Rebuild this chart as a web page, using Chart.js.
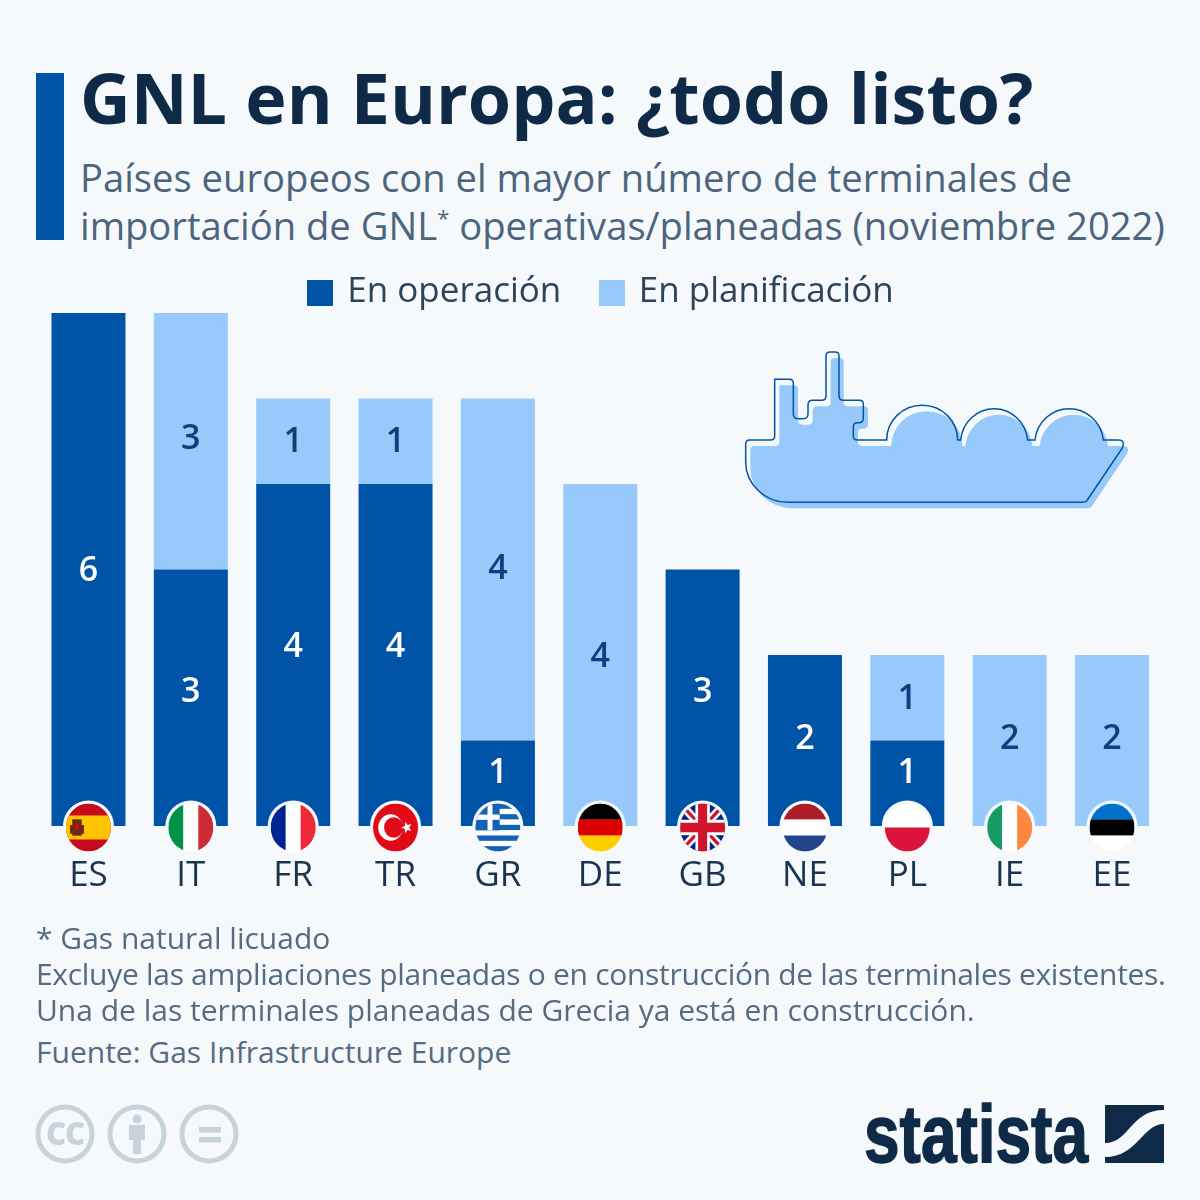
<!DOCTYPE html>
<html lang="es">
<head>
<meta charset="utf-8">
<title>GNL en Europa</title>
<script src="https://cdn.jsdelivr.net/npm/chart.js@4"></script>
<style>
  html, body { margin: 0; padding: 0; background: #f5f9fc; }
  body { position: relative; width: 1200px; height: 1200px; overflow: hidden; font-family: "Open Sans", sans-serif; }
  .txt { position: absolute; white-space: nowrap; }
  #bar { position: absolute; left: 36px; top: 73px; width: 28px; height: 167px; background: #0054a8; }
  #title { left: 80px; top: 49px; font-size: 70px; line-height: 96px; font-weight: 700; color: #0f2a47; }
  .sub { left: 80px; font-size: 38.2px; line-height: 48px; color: #4d657c; }
  .sub sup { font-size: 22px; line-height: 0; vertical-align: 14px; }
  .foot { left: 36px; font-size: 30px; line-height: 36px; color: #566b80; }
  canvas { position: absolute; left: 0; top: 227px; }
  svg { position: absolute; overflow: visible; }
</style>
</head>
<body>
<div id="bar"></div>
<div class="txt" id="title">GNL en Europa: ¿todo listo?</div>
<div class="txt sub" style="top:153px">Países europeos con el mayor número de terminales de</div>
<div class="txt sub" style="top:201px">importación de GNL<sup>*</sup> operativas/planeadas (noviembre 2022)</div>
<canvas id="myChart" width="1200" height="695"></canvas>
<div class="txt foot" style="top:920px">* Gas natural licuado</div>
<div class="txt foot" style="top:956px;letter-spacing:-0.3px">Excluye las ampliaciones planeadas o en construcción de las terminales existentes.</div>
<div class="txt foot" style="top:992px">Una de las terminales planeadas de Grecia ya está en construcción.</div>
<div class="txt foot" style="top:1034px">Fuente: Gas Infrastructure Europe</div>

<!-- ship -->
<svg style="left:730px;top:340px" width="410" height="180" viewBox="0 0 1230 540">
  <defs>
    <path id="hull" d="M47 312 Q47 300 59 300 H122 Q134 300 134 288 V118 H178 Q190 118 190 130 V222 Q190 236 204 236 H220 Q234 236 234 222 V195 Q234 181 248 181 H275 Q288 181 288 168 V48 Q288 36 300 36 H315 Q327 36 327 48 V168 Q327 181 340 181 H388 Q400 181 400 193 V235 Q400 248 388 248 H382 Q370 248 370 260 V288 Q370 300 382 300 H470 A106 104 0 0 1 683 300 H692 A101 104 0 0 1 893 300 H915 A103 104 0 0 1 1120 300 H1165 Q1186 300 1178 322 L1072 480 Q1068 487 1058 487 H175 A128 122 0 0 1 47 365 Z"/>
  </defs>
  <use href="#hull" x="14" y="18" fill="#97c9fb"/>
  <use href="#hull" fill="none" stroke="#0054a8" stroke-width="4.5"/>
</svg>

<!-- licence icons -->
<svg style="left:0;top:0" width="300" height="1200" viewBox="0 0 300 1200">
  <g fill="none" stroke="#c6d3db" stroke-width="5">
    <circle cx="65" cy="1134" r="27"/>
    <circle cx="137" cy="1134" r="27"/>
    <circle cx="209" cy="1134" r="27"/>
  </g>
  <text x="65" y="1145" text-anchor="middle" font-family="Open Sans" font-weight="800" font-size="31" fill="#c6d3db" letter-spacing="-1">CC</text>
  <g fill="#c6d3db">
    <circle cx="137" cy="1119" r="4.5"/>
    <path d="M129 1125 H145 V1140 H141 V1154 H133 V1140 H129 Z"/>
    <rect x="199" y="1127" width="22" height="5.5"/>
    <rect x="199" y="1137" width="22" height="5.5"/>
  </g>
</svg>

<!-- logo -->
<svg style="left:0;top:0" width="1200" height="1200" viewBox="0 0 1200 1200">
  <text x="864" y="1162" font-family="Liberation Sans Narrow, Liberation Sans" font-weight="700" font-size="81" fill="#0f2a47" stroke="#0f2a47" stroke-width="1.5" textLength="224" lengthAdjust="spacingAndGlyphs">statista</text>
  <rect x="1105" y="1105" width="59" height="58" rx="1" fill="#0f2a47"/>
  <path d="M1105 1143 C1130 1143 1130 1110 1164 1110 V1124 C1142 1124 1138 1157 1105 1157 Z" fill="#f5f9fc"/>
</svg>

<script>
const categories = ['ES', 'IT', 'FR', 'TR', 'GR', 'DE', 'GB', 'NE', 'PL', 'IE', 'EE'];
const operating = [6, 3, 4, 4, 1, 0, 3, 2, 1, 0, 0];
const planned = [0, 3, 1, 1, 4, 4, 0, 0, 1, 2, 2];

const darkBlue = '#0054a8';
const lightBlue = '#97c9fb';
// labels do not sit quite in the middle of the segments, the flags push them up
const operatingNudge = [2, -5, -8, -8, -10, 0, -5, -1, -10, 0, 0];
const plannedNudge = [0, -2, 1, 1, 0, 2, 0, 0, 2, -1, -1];

// square legend marker, chart.js leaves too wide a gap with a plain box
function legendBox (color) {
  const c = document.createElement('canvas');
  c.width = 26;
  c.height = 26;
  const g = c.getContext('2d');
  g.fillStyle = color;
  g.fillRect(0, 0, 26, 26);
  return c;
}
const legendBoxes = [legendBox(darkBlue), legendBox(lightBlue)];

function stripes (ctx, dir, colors) {
  const n = colors.length;
  colors.forEach((c, i) => {
    ctx.fillStyle = c;
    if (dir === 'h') ctx.fillRect(-1, -1 + i * 2 / n, 2, 2 / n + 0.01);
    else ctx.fillRect(-1 + i * 2 / n, -1, 2 / n + 0.01, 2);
  });
}

function star (ctx, x, y, r) {
  ctx.beginPath();
  for (let i = 0; i < 10; i++) {
    const a = -Math.PI / 2 + i * Math.PI / 5 - 0.3;
    const rr = i % 2 ? r * 0.42 : r;
    ctx.lineTo(x + rr * Math.cos(a), y + rr * Math.sin(a));
  }
  ctx.closePath();
  ctx.fill();
}

function bandLine (ctx, x1, y1, x2, y2, w, color) {
  ctx.strokeStyle = color;
  ctx.lineWidth = w;
  ctx.beginPath();
  ctx.moveTo(x1, y1);
  ctx.lineTo(x2, y2);
  ctx.stroke();
}

const flags = {
  ES (ctx) {
    ctx.fillStyle = '#c60b1e';
    ctx.fillRect(-1, -1, 2, 2);
    ctx.fillStyle = '#ffc400';
    ctx.fillRect(-1, -0.5, 2, 1);
    ctx.fillStyle = '#6d2a12';
    ctx.fillRect(-0.72, -0.34, 0.42, 0.68);
    ctx.fillRect(-0.82, -0.1, 0.62, 0.36);
    ctx.fillStyle = '#c60b1e';
    ctx.fillRect(-0.6, -0.14, 0.18, 0.22);
  },
  IT (ctx) { stripes(ctx, 'v', ['#009246', '#ffffff', '#ce2b37']); },
  FR (ctx) { stripes(ctx, 'v', ['#002395', '#ffffff', '#ed2939']); },
  TR (ctx) {
    ctx.fillStyle = '#e30a17';
    ctx.fillRect(-1, -1, 2, 2);
    ctx.fillStyle = '#ffffff';
    ctx.beginPath();
    ctx.arc(-0.22, 0, 0.55, 0, Math.PI * 2);
    ctx.fill();
    ctx.fillStyle = '#e30a17';
    ctx.beginPath();
    ctx.arc(-0.08, 0, 0.43, 0, Math.PI * 2);
    ctx.fill();
    ctx.fillStyle = '#ffffff';
    star(ctx, 0.5, 0, 0.25);
  },
  GR (ctx) {
    const cols = [];
    for (let i = 0; i < 9; i++) cols.push(i % 2 ? '#ffffff' : '#1263b4');
    stripes(ctx, 'h', cols);
    ctx.fillStyle = '#1263b4';
    ctx.fillRect(-1, -1, 1.08, 1.12);
    ctx.fillStyle = '#ffffff';
    ctx.fillRect(-0.46, -1, 0.22, 1.12);
    ctx.fillRect(-1, -0.54, 1.08, 0.22);
  },
  DE (ctx) { stripes(ctx, 'h', ['#000000', '#dd0000', '#ffce00']); },
  GB (ctx) {
    ctx.fillStyle = '#00247d';
    ctx.fillRect(-1, -1, 2, 2);
    bandLine(ctx, -1, -1, 1, 1, 0.36, '#ffffff');
    bandLine(ctx, -1, 1, 1, -1, 0.36, '#ffffff');
    bandLine(ctx, -1, -1, 1, 1, 0.14, '#cf142b');
    bandLine(ctx, -1, 1, 1, -1, 0.14, '#cf142b');
    ctx.fillStyle = '#ffffff';
    ctx.fillRect(-1, -0.32, 2, 0.64);
    ctx.fillRect(-0.32, -1, 0.64, 2);
    ctx.fillStyle = '#cf142b';
    ctx.fillRect(-1, -0.2, 2, 0.4);
    ctx.fillRect(-0.2, -1, 0.4, 2);
  },
  NE (ctx) { stripes(ctx, 'h', ['#ae1c28', '#ffffff', '#21468b']); },
  PL (ctx) { stripes(ctx, 'h', ['#ffffff', '#dc143c']); },
  IE (ctx) { stripes(ctx, 'v', ['#169b62', '#ffffff', '#ff883e']); },
  EE (ctx) { stripes(ctx, 'h', ['#0072ce', '#000000', '#ffffff']); }
};

const flagPlugin = {
  id: 'flagPlugin',
  afterDraw (chart) {
    const ctx = chart.ctx;
    const base = chart.scales.y.getPixelForValue(0);
    categories.forEach((code, i) => {
      const cx = chart.scales.x.getPixelForValue(i);
      ctx.save();
      ctx.fillStyle = '#f5f9fc';
      ctx.beginPath();
      ctx.arc(cx, base, 25.5, 0, Math.PI * 2);
      ctx.fill();
      ctx.beginPath();
      ctx.ellipse(cx, base + 1.5, 22.5, 24, 0, 0, Math.PI * 2);
      ctx.clip();
      ctx.translate(cx, base + 1.5);
      ctx.scale(22.5, 24);
      flags[code](ctx);
      ctx.restore();
    });
  }
};

const labelPlugin = {
  id: 'labelPlugin',
  afterDatasetsDraw (chart) {
    const ctx = chart.ctx;
    ctx.save();
    ctx.font = '600 34px "Open Sans"';
    ctx.textAlign = 'center';
    ctx.textBaseline = 'middle';
    chart.data.datasets.forEach((ds, d) => {
      const nudge = d === 0 ? operatingNudge : plannedNudge;
      ctx.fillStyle = d === 0 ? '#ffffff' : '#0d3f80';
      chart.getDatasetMeta(d).data.forEach((bar, i) => {
        if (!ds.data[i]) return;
        ctx.fillText(ds.data[i], bar.x, (bar.y + bar.base) / 2 + nudge[i]);
      });
    });
    ctx.restore();
  }
};

// legend sits closer to the bars than chart.js would put it
const legendShift = {
  id: 'legendShift',
  afterLayout (chart) {
    chart.legend.top += 7;
    chart.legend.bottom += 7;
    chart.legend.left += 2;
    chart.legend.right += 2;
  }
};

const gnlChart = new Chart(
  document.getElementById('myChart'),
  {
    type: 'bar',
    plugins: [labelPlugin, flagPlugin, legendShift],
    data: {
      labels: categories,
      datasets: [
        { label: 'En operación', data: operating, backgroundColor: darkBlue, borderWidth: 0 },
        { label: 'En planificación', data: planned, backgroundColor: lightBlue, borderWidth: 0 }
      ]
    },
    options: {
      responsive: false,
      animation: false,
      layout: { padding: { left: 37.3, right: 36.8, top: 0, bottom: 4 } },
      barPercentage: 0.723,
      categoryPercentage: 1,
      plugins: {
        tooltip: { enabled: false },
        legend: {
          position: 'top',
          onClick: null,
          labels: {
            usePointStyle: true,
            pointStyleWidth: 19,
            padding: 41,
            color: '#2c4359',
            font: { family: '"Open Sans"', size: 35 },
            generateLabels (chart) {
              const items = Chart.defaults.plugins.legend.labels.generateLabels(chart);
              return items.map((item, i) => ({ ...item, pointStyle: legendBoxes[i] }));
            }
          }
        }
      },
      scales: {
        x: {
          stacked: true,
          grid: { display: false },
          border: { display: false },
          ticks: {
            padding: 21,
            color: '#1a3350',
            maxRotation: 0,
            font: { family: '"Open Sans"', size: 35 }
          }
        },
        y: {
          stacked: true,
          display: false,
          min: 0,
          max: 6
        }
      }
    }
  }
);
</script>
</body>
</html>
